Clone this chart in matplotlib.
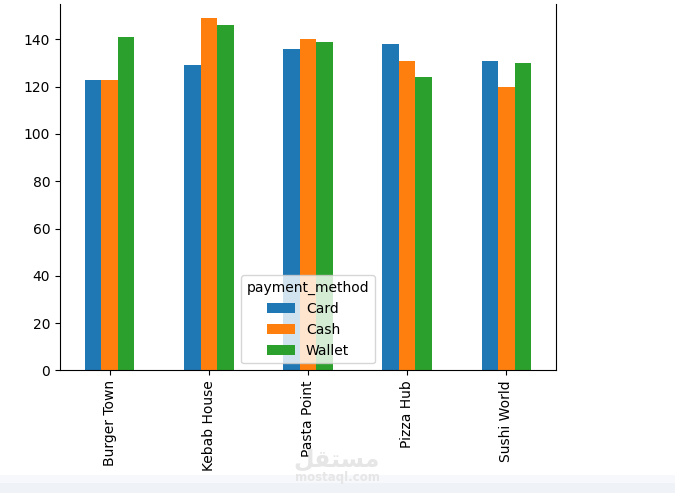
import pandas as pd
import matplotlib.pyplot as plt
from matplotlib.patches import Rectangle

restaurants = ["Burger Town", "Kebab House", "Pasta Point", "Pizza Hub", "Sushi World"]
card = [123, 129, 136, 138, 131]
cash = [123, 149, 140, 131, 120]
wallet = [141, 146, 139, 124, 130]

df = pd.DataFrame({"Card": card, "Cash": cash, "Wallet": wallet}, index=restaurants)
df.columns.name = "payment_method"
df.index.name = None

fig = plt.figure(figsize=(6.75, 4.93), dpi=100)
ax = fig.add_axes([60 / 675, 122.7 / 493, 496 / 675, 366.3 / 493])
df.plot(kind="bar", ax=ax)
ax.set_ylim(0, 155)
ax.spines["top"].set_visible(False)  # cropped off in the source screenshot
ax.legend(title="payment_method", loc="lower center")

# light band + watermark from the source screenshot
fig.patches.append(Rectangle((0, 0), 1, 18 / 493, transform=fig.transFigure,
                             facecolor="#f7f8fb", edgecolor="none", zorder=-1))
fig.patches.append(Rectangle((0, 0), 1, 10 / 493, transform=fig.transFigure,
                             facecolor="#eff2f6", edgecolor="none", zorder=-1))
fig.text(337 / 675, 1 - 460 / 493, "\uFEDE\uFED8\uFE98\uFEB4\uFEE3", ha="center", va="center",
         fontsize=17, fontweight="bold", color="#e6e6e6", family="DejaVu Sans")
fig.text(337 / 675, 1 - 477 / 493, "mostaql.com", ha="center", va="center",
         fontsize=8.5, fontweight="bold", color="#e6e6e6")

fig.savefig("out.png", dpi=100)
